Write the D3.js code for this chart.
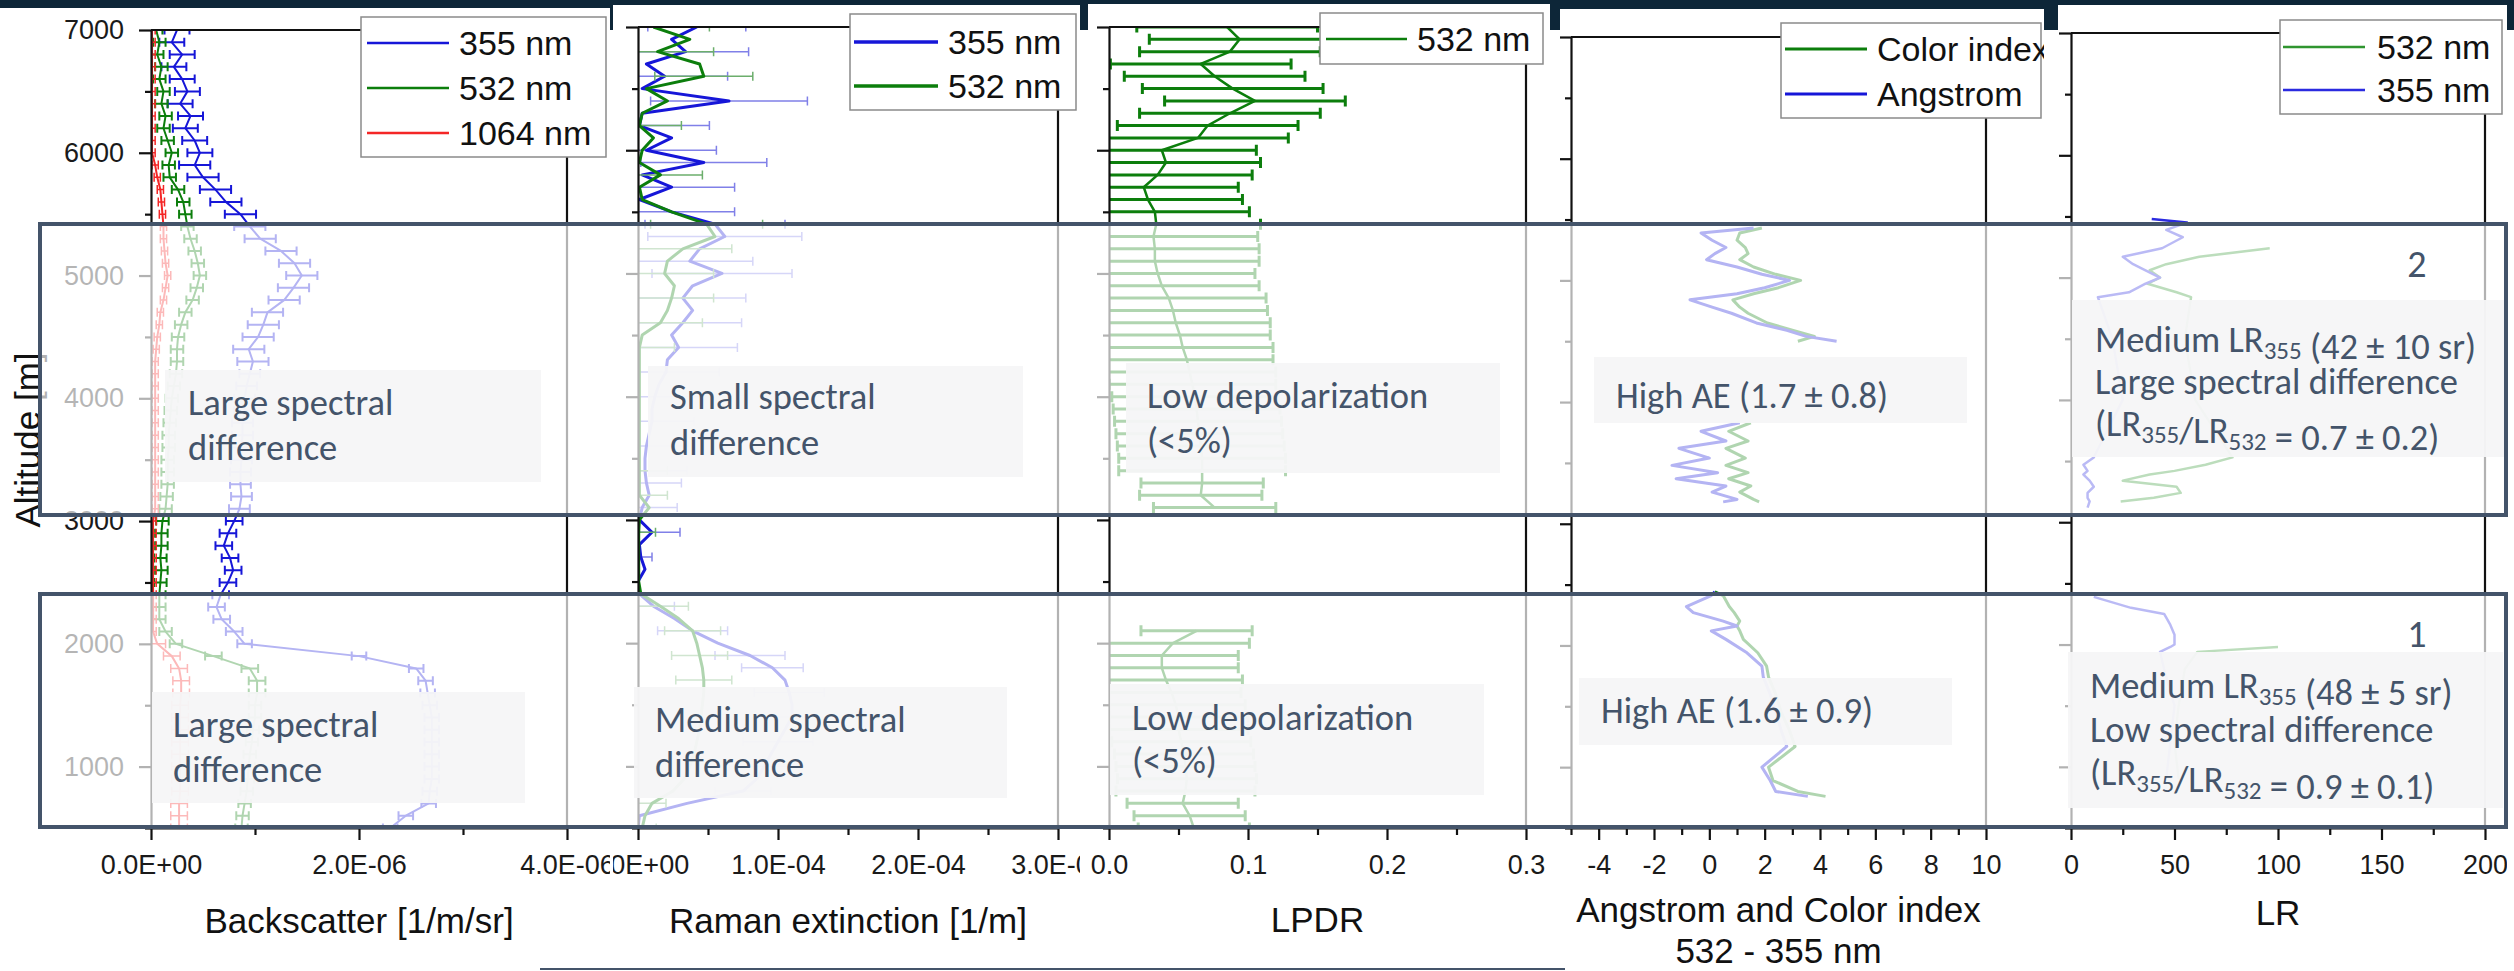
<!DOCTYPE html>
<html>
<head>
<meta charset="utf-8">
<script src="https://cdn.jsdelivr.net/npm/d3@7"></script>
<style>
  html, body { margin: 0; padding: 0; background: #0d2638; }
  svg { display: block; }
</style>
</head>
<body>
<svg id="chart" width="2514" height="971"></svg>
<script>
// altitude grid [m] used by the backscatter, extinction and LPDR profiles
var alt = [7000, 6900, 6800, 6700, 6600, 6500, 6400, 6300, 6200, 6100,
  6000, 5900, 5800, 5700, 5600, 5500, 5400, 5300, 5200, 5100,
  5000, 4900, 4800, 4700, 4600, 4500, 4400, 4300, 4200, 4100,
  4000, 3900, 3800, 3700, 3600, 3500, 3400, 3300, 3200, 3100,
  3000, 2900, 2800, 2700, 2600, 2500, 2400, 2300, 2200, 2100,
  2000, 1900, 1800, 1700, 1600, 1500, 1400, 1300, 1200, 1100,
  1000, 900, 800, 700, 600, 500]

// backscatter, units of 1e-6 1/m/sr
var bsc355 = [0.25, 0.20, 0.30, 0.22, 0.30, 0.35, 0.28, 0.38, 0.33, 0.42,
  0.47, 0.42, 0.50, 0.62, 0.72, 0.86, 0.95, 1.05, 1.25, 1.38,
  1.45, 1.37, 1.28, 1.12, 1.08, 1.03, 0.94, 0.98, 0.95, 0.92,
  0.90, 0.90, 0.88, 0.88, 0.87, 0.87, 0.86, 0.86, 0.87, 0.85,
  0.80, 0.74, 0.70, 0.76, 0.79, 0.74, 0.67, 0.63, 0.68, 0.80,
  0.90, 2.00, 2.55, 2.64, 2.66, 2.68, 2.70, 2.70, 2.70, 2.70,
  2.70, 2.70, 2.68, 2.67, 2.45, 2.30]
var bsc355Err = [0.12, 0.12, 0.12, 0.12, 0.12, 0.12, 0.12, 0.12, 0.12, 0.12,
  0.12, 0.15, 0.15, 0.15, 0.15, 0.15, 0.15, 0.15, 0.15, 0.15,
  0.15, 0.15, 0.15, 0.15, 0.15, 0.15, 0.15, 0.15, 0.10, 0.10,
  0.10, 0.10, 0.10, 0.10, 0.10, 0.10, 0.10, 0.10, 0.10, 0.10,
  0.08, 0.08, 0.08, 0.08, 0.08, 0.08, 0.08, 0.08, 0.08, 0.08,
  0.07, 0.07, 0.07, 0.07, 0.07, 0.07, 0.07, 0.07, 0.07, 0.07,
  0.07, 0.07, 0.07, 0.07, 0.07, 0.07]
var bsc532 = [0.05, 0.08, 0.06, 0.10, 0.08, 0.12, 0.10, 0.14, 0.12, 0.16,
  0.20, 0.17, 0.18, 0.26, 0.31, 0.33, 0.35, 0.38, 0.42, 0.45,
  0.47, 0.44, 0.40, 0.33, 0.29, 0.26, 0.25, 0.25, 0.24, 0.22,
  0.20, 0.19, 0.18, 0.17, 0.17, 0.16, 0.16, 0.16, 0.15, 0.14,
  0.11, 0.10, 0.10, 0.09, 0.10, 0.09, 0.08, 0.08, 0.08, 0.14,
  0.24, 0.60, 0.95, 1.02, 1.02, 1.00, 1.00, 0.98, 0.97, 0.95,
  0.94, 0.93, 0.92, 0.90, 0.88, 0.87]
var bsc532Err = [0.06, 0.06, 0.06, 0.06, 0.06, 0.06, 0.06, 0.06, 0.06, 0.06,
  0.06, 0.06, 0.06, 0.06, 0.06, 0.06, 0.06, 0.06, 0.06, 0.06,
  0.06, 0.06, 0.06, 0.06, 0.06, 0.06, 0.06, 0.06, 0.06, 0.06,
  0.06, 0.06, 0.06, 0.06, 0.06, 0.06, 0.06, 0.06, 0.06, 0.06,
  0.06, 0.06, 0.06, 0.06, 0.06, 0.06, 0.06, 0.06, 0.06, 0.06,
  0.06, 0.08, 0.08, 0.08, 0.08, 0.06, 0.06, 0.06, 0.06, 0.06,
  0.06, 0.06, 0.06, 0.06, 0.06, 0.06]
var bsc1064 = [0.01, 0.01, 0.01, 0.01, 0.01, 0.01, 0.01, 0.01, 0.01, 0.01,
  0.01, 0.04, 0.06, 0.09, 0.10, 0.11, 0.12, 0.12, 0.13, 0.14,
  0.16, 0.14, 0.12, 0.09, 0.08, 0.06, 0.05, 0.04, 0.04, 0.04,
  0.04, 0.04, 0.04, 0.04, 0.04, 0.04, 0.04, 0.04, 0.04, 0.04,
  0.02, 0.02, 0.02, 0.02, 0.02, 0.02, 0.02, 0.02, 0.02, 0.02,
  0.06, 0.20, 0.27, 0.29, 0.29, 0.28, 0.28, 0.28, 0.28, 0.28,
  0.28, 0.28, 0.28, 0.27, 0.27, 0.27]
var bsc1064Err = [0.03, 0.03, 0.03, 0.03, 0.03, 0.03, 0.03, 0.03, 0.03, 0.03,
  0.03, 0.03, 0.03, 0.03, 0.03, 0.03, 0.03, 0.03, 0.03, 0.03,
  0.03, 0.03, 0.03, 0.03, 0.03, 0.03, 0.03, 0.03, 0.03, 0.03,
  0.03, 0.03, 0.03, 0.03, 0.03, 0.03, 0.03, 0.03, 0.03, 0.03,
  0.03, 0.03, 0.03, 0.03, 0.03, 0.03, 0.03, 0.03, 0.03, 0.03,
  0.08, 0.08, 0.08, 0.08, 0.08, 0.08, 0.08, 0.08, 0.08, 0.08,
  0.08, 0.08, 0.08, 0.08, 0.08, 0.08]

// Raman extinction, units of 1e-4 1/m (null: no error bar drawn)
var ext355 = [0.42, 0.24, 0.34, 0.06, 0.19, 0.03, 0.65, 0.03, 0.01, 0.24,
  0.06, 0.47, 0.03, 0.24, 0.01, 0.24, 0.55, 0.62, 0.44, 0.37,
  0.60, 0.39, 0.32, 0.39, 0.32, 0.24, 0.29, 0.21, 0.20, 0.15,
  0.12, 0.10, 0.10, 0.08, 0.06, 0.05, 0.05, 0.06, 0.08, 0.03,
  0.01, 0.10, 0.01, 0.02, 0.05, 0.00, 0.01, 0.11, 0.26, 0.39,
  0.57, 0.80, 0.96, 1.05, 1.08, 1.10, 1.10, 1.05, 1.00, 0.95,
  0.90, 0.85, 0.75, 0.35, 0.01, 0.00]
var ext355Err = [0.35, null, 0.45, null, 0.45, null, 0.56, null, 0.50, null,
  0.50, 0.45, null, 0.45, null, 0.45, 0.50, 0.55, null, 0.45,
  0.50, null, 0.45, null, 0.42, null, 0.42, null, 0.38, null,
  0.35, null, 0.30, null, 0.30, null, 0.30, 0.25, null, 0.25,
  null, 0.20, null, 0.08, null, null, null, 0.15, null, 0.25,
  null, 0.25, 0.22, null, 0.25, null, 0.25, null, 0.25, null,
  0.25, null, 0.20, null, null, null]
var ext532 = [0.11, 0.37, 0.14, 0.44, 0.47, 0.06, 0.21, 0.03, 0.01, 0.11,
  0.03, 0.01, 0.16, 0.01, 0.03, 0.24, 0.49, 0.55, 0.32, 0.21,
  0.19, 0.26, 0.24, 0.21, 0.16, 0.03, 0.01, 0.01, 0.01, 0.01,
  0.01, 0.01, 0.01, 0.01, 0.01, 0.01, 0.01, 0.01, 0.01, 0.08,
  0.01, 0.005, 0.005, 0.005, 0.005, 0.005, 0.02, 0.16, 0.29, 0.39,
  0.42, 0.44, 0.46, 0.47, 0.47, 0.46, 0.45, 0.44, 0.42, 0.40,
  0.37, 0.33, 0.25, 0.10, 0.05, 0.03]
var ext532Err = [0.40, null, 0.40, null, 0.35, null, null, null, 0.30, null,
  null, null, 0.30, null, null, null, 0.40, null, 0.35, null,
  0.35, null, 0.30, null, 0.30, null, 0.25, null, null, null,
  null, null, null, null, null, null, 0.20, null, 0.20, null,
  null, 0.12, null, null, null, null, null, 0.20, null, 0.20,
  null, 0.20, null, 0.20, null, null, null, null, null, null,
  null, null, null, 0.10, null, 0.10]

// linear particle depolarization ratio at 532 nm
var lpdr532 = [0.085, 0.094, 0.087, 0.066, 0.076, 0.089, 0.105, 0.087, 0.071, 0.064,
  0.038, 0.041, 0.035, 0.025, 0.028, 0.033, 0.034, 0.032, 0.033, 0.033,
  0.035, 0.038, 0.043, 0.046, 0.048, 0.051, 0.053, 0.056, 0.058, 0.060,
  0.062, 0.063, 0.064, 0.065, 0.066, 0.067, 0.067, 0.067, 0.066, 0.076,
  null, null, null, null, null, null, null, null, null, 0.063,
  0.046, 0.038, 0.038, 0.041, 0.045, 0.048, 0.050, 0.050, 0.052, 0.054,
  0.055, 0.056, 0.055, 0.053, 0.058, 0.061]
var lpdr532Err = [0.065, 0.065, 0.065, 0.065, 0.065, 0.065, 0.065, 0.065, 0.065, 0.065,
  0.068, 0.068, 0.068, 0.068, 0.068, 0.068, 0.075, 0.075, 0.075, 0.075,
  0.070, 0.070, 0.070, 0.068, 0.068, 0.065, 0.065, 0.062, 0.062, 0.060,
  0.060, 0.060, 0.060, 0.060, 0.060, 0.060, 0.060, 0.044, 0.044, 0.044,
  null, null, null, null, null, null, null, null, null, 0.040,
  0.055, 0.055, 0.055, 0.055, 0.050, 0.050, 0.050, 0.050, 0.050, 0.050,
  0.050, 0.050, 0.050, 0.040, 0.040, 0.040]

// Angstrom exponent and color index (532 - 355 nm); null breaks the line
var aeAlt = [5430, 5390, 5330, 5270, 5220, 5170, 5110, 5050, 5000, 4940, 4890, 4840, 4780, 4730, 4650, 4590, 4540, 4500,
  4000,
  3830, 3760, 3680, 3620, 3540, 3480, 3420, 3370, 3310, 3260, 3200, 3180,
  2800,
  2440, 2410, 2320, 2270, 2200, 2160, 2120, 2050, 1940, 1830, 1740, 1600, 1450, 1300, 1170, 1000, 890, 800, 760]
var angstrom = [1.6, -0.3, 0.1, 0.6, 0.2, -0.1, 1.0, 1.9, 2.9, 2.0, 1.0, -0.7, 0.1, 0.8, 1.7, 2.8, 3.5, 4.6,
  null,
  1.1, -0.3, 0.6, -1.1, 0.0, -1.35, 0.3, -1.2, 0.6, 0.1, 1.0, 0.5,
  null,
  0.2, 0.07, -0.83, -0.58, 0.5, 1.0, 0.07, 0.6, 1.36, 1.9, 1.95, 2.2, 2.4, 2.6, 2.8, 1.9, 2.2, 2.4, 3.56]
var colorIndex = [1.9, 1.1, 1.0, 1.3, 1.4, 1.1, 1.6, 2.4, 3.3, 2.5, 1.6, 0.85, 1.1, 1.4, 2.1, 3.0, 3.8, 3.2,
  null,
  1.5, 0.7, 1.4, 0.6, 1.3, 0.6, 1.4, 0.7, 1.5, 1.1, 1.6, 1.8,
  null,
  0.2, 0.5, 0.72, 0.9, 1.1, 1.0, 1.1, 1.23, 1.75, 2.07, 2.14, 2.4, 2.6, 2.9, 3.1, 2.14, 2.3, 3.2, 4.2]

// lidar ratio [sr]
var lrAlt = [5480, 5450, 5390, 5330, 5240, 5170, 5110, 5060, 5000, 4950, 4880, 4840,
  4500, 4000,
  3530, 3470, 3420, 3390, 3340, 3290, 3240, 3200, 3170, 3120,
  2700,
  2390, 2300, 2250, 2160, 2080, 2000, 1980, 1940, 1800, 1500, 1200, 900]
var lr355 = [39, 56, 46, 54, 44, 25, 30, 36, 43, 36, 28, 13,
  20, 25,
  11, 6, 8, 6, 9, 11, 8, 8, 9, 8,
  null,
  11, 29, 45, 48, 50, 50, 48, 43, 45, 50, 48, 46]
var lr532 = [null, null, null, null, 96, 62, 46, 38, 43, 37, 51, 58,
  55, 60,
  78, 65, 50, 38, 25, 51, 53, 40, 24, null,
  null,
  null, null, null, null, null, null, 100, 61, 55, 52, 50, 52]

// tick values and labels
var altMajor = [1000, 2000, 3000, 4000, 5000, 6000, 7000]
var altMinor = [500, 1500, 2500, 3500, 4500, 5500, 6500]
var bscTicks = [0, 2, 4]
var bscMinor = [1, 3]
var extTicks = [0, 1, 2, 3]
var extMinor = [0.5, 1.5, 2.5]
var lpdrTicks = [0, 0.1, 0.2, 0.3]
var lpdrMinor = [0.05, 0.15, 0.25]
var aeTicks = [-4, -2, 0, 2, 4, 6, 8, 10]
var aeMinor = [-5, -3, -1, 1, 3, 5, 7, 9]
var lrTicks = [0, 50, 100, 150, 200]
var lrMinor = [25, 75, 125, 175]

var titles = [['Backscatter [1/m/sr]'], ['Raman extinction [1/m]'], ['LPDR'],
  ['Angstrom and Color index', '532 - 355 nm'], ['LR']]
var legendNames = [['355 nm', '532 nm', '1064 nm'], ['355 nm', '532 nm'], ['532 nm'],
  ['Color index', 'Angstrom'], ['532 nm', '355 nm']]

var noteText = [
  ['Large spectral', 'difference'],
  ['Large spectral', 'difference'],
  ['Small spectral', 'difference'],
  ['Medium spectral', 'difference'],
  ['Low depolarization', '(<5%)'],
  ['Low depolarization', '(<5%)'],
  ['High AE (1.7 \u00b1 0.8)'],
  ['High AE (1.6 \u00b1 0.9)'],
  ['Medium LR_355 (42 \u00b1 10 sr)', 'Large spectral difference', '(LR_355/LR_532 = 0.7 \u00b1 0.2)'],
  ['Medium LR_355 (48 \u00b1 5 sr)', 'Low spectral difference', '(LR_355/LR_532 = 0.9 \u00b1 0.1)']
]
var layerNames = ['2', '1']

// ---------------------------------------------------------------
var BLUE = '#1616d8'
var GREEN = '#0c7e0c'
var RED = '#f42626'
var SLATE = '#44546a'
var AXIS_FONT = '"Liberation Sans", Arial, sans-serif'
var NOTE_FONT = 'Carlito, Lato, sans-serif'
var BOTTOM = 828

function sci (v) {
  var parts = v.toExponential(1).split('e')
  var e = parseInt(parts[1], 10)
  return parts[0] + 'E' + (e < 0 ? '-' : '+') + String(Math.abs(e)).padStart(2, '0')
}

var panels = [
  {
    x0: 151, x1: 567, top: 30, clip: [0, 8, 610, 963], dom: [0, 4],
    major: bscTicks, minor: bscMinor, fmt: function (d) { return sci(d * 1e-6) },
    titleY: [933], yLabels: true,
    series: [
      { v: bsc355, e: bsc355Err, c: BLUE, w: 2, ew: 2, cap: 9 },
      { v: bsc532, e: bsc532Err, c: GREEN, w: 2, ew: 2, cap: 9 },
      { v: bsc1064, e: bsc1064Err, c: RED, w: 2, ew: 1.5, cap: 9 }
    ],
    legend: { x: 361, y: 17, w: 245, h: 140, l0: 367, l1: 449, tx: 459, ys: [43, 88, 133], colors: [BLUE, GREEN, RED], lw: 2.5 }
  },
  {
    x0: 638, x1: 1058, top: 27, clip: [613, 5, 1080, 966], dom: [0, 3],
    major: extTicks, minor: extMinor, fmt: function (d) { return sci(d * 1e-4) },
    titleY: [933],
    series: [
      { v: ext355, e: ext355Err, c: BLUE, w: 3, ew: 1.5, cap: 9, barColor: '#8080e8' },
      { v: ext532, e: ext532Err, c: GREEN, w: 3, ew: 1.5, cap: 9, barColor: '#6cae6c' }
    ],
    legend: { x: 850, y: 14, w: 226, h: 96, l0: 854, l1: 938, tx: 948, ys: [42, 86], colors: [BLUE, GREEN], lw: 3.5 }
  },
  {
    x0: 1109, x1: 1526, top: 27, clip: [1088, 4, 1550, 967], dom: [0, 0.3],
    major: lpdrTicks, minor: lpdrMinor, fmt: d3.format('.1f'),
    titleY: [932],
    series: [
      { v: lpdr532, e: lpdr532Err, c: GREEN, w: 2.5, ew: 3, cap: 11 }
    ],
    legend: { x: 1320, y: 13, w: 223, h: 51, l0: 1326, l1: 1407, tx: 1417, ys: [39], colors: [GREEN], lw: 2.5 }
  },
  {
    x0: 1571, x1: 1986, top: 37, clip: [1560, 9, 2044, 962], dom: [-5, 10],
    major: aeTicks, minor: aeMinor, fmt: function (d) { return String(d) },
    titleY: [922, 963], alts: aeAlt,
    series: [
      { v: colorIndex, c: GREEN, w: 3 },
      { v: angstrom, c: BLUE, w: 3 }
    ],
    legend: { x: 1781, y: 23, w: 260, h: 95, l0: 1785, l1: 1867, tx: 1877, ys: [49, 94], colors: [GREEN, BLUE], lw: 3 }
  },
  {
    x0: 2071, x1: 2485, top: 33, clip: [2058, 5, 2507, 966], dom: [0, 200],
    major: lrTicks, minor: lrMinor, fmt: function (d) { return String(d) },
    titleY: [925], alts: lrAlt,
    series: [
      { v: lr532, c: '#2f952f', w: 2.5 },
      { v: lr355, c: '#2b2be0', w: 2.5 }
    ],
    legend: { x: 2280, y: 20, w: 222, h: 94, l0: 2283, l1: 2365, tx: 2377, ys: [47, 90], colors: ['#2f952f', '#2b2be0'], lw: 2.5 }
  }
]

var noteBoxes = [
  { x: 165, y: 370, w: 376, h: 112, tx: 188, ty: [415, 460] },
  { x: 152, y: 692, w: 373, h: 111, tx: 173, ty: [737, 782] },
  { x: 648, y: 366, w: 375, h: 111, tx: 670, ty: [409, 455] },
  { x: 634, y: 687, w: 373, h: 111, tx: 655, ty: [732, 777] },
  { x: 1126, y: 363, w: 374, h: 110, tx: 1147, ty: [408, 453] },
  { x: 1110, y: 684, w: 374, h: 111, tx: 1132, ty: [730, 773] },
  { x: 1594, y: 357, w: 373, h: 66, tx: 1616, ty: [408] },
  { x: 1579, y: 678, w: 373, h: 67, tx: 1601, ty: [723] },
  { x: 2072, y: 300, w: 435, h: 157, tx: 2095, ty: [352, 394, 436] },
  { x: 2068, y: 652, w: 435, h: 156, tx: 2090, ty: [698, 742, 785] }
]
var layerBoxes = [
  { x: 40, y: 224, w: 2466, h: 291, nx: 2417, ny: 277 },
  { x: 40, y: 594, w: 2466, h: 233, nx: 2417, ny: 647 }
]

var svg = d3.select('#chart')
var defs = svg.append('defs')

svg.append('rect').attr('width', 2514).attr('height', 971).attr('fill', '#0d2638')
svg.append('rect').attr('y', 30).attr('width', 2514).attr('height', 941).attr('fill', '#fff')

panels.forEach(function (p, i) {
  var x = d3.scaleLinear().domain(p.dom).range([p.x0, p.x1])
  var y = d3.scaleLinear().domain([500, 7000]).range([BOTTOM, p.top])
  var alts = p.alts || alt

  defs.append('clipPath').attr('id', 'img' + i).append('rect')
    .attr('x', p.clip[0]).attr('y', p.clip[1])
    .attr('width', p.clip[2] - p.clip[0]).attr('height', 971 - p.clip[1])
  defs.append('clipPath').attr('id', 'plot' + i).append('rect')
    .attr('x', p.x0).attr('y', p.top)
    .attr('width', p.x1 - p.x0).attr('height', BOTTOM - p.top)

  var g = svg.append('g').attr('clip-path', 'url(#img' + i + ')')
  g.append('rect')
    .attr('x', p.clip[0]).attr('y', p.clip[1])
    .attr('width', p.clip[2] - p.clip[0]).attr('height', 971 - p.clip[1])
    .attr('fill', '#fff')

  var plot = g.append('g').attr('clip-path', 'url(#plot' + i + ')')

  p.series.forEach(function (s) {
    if (s.e) {
      var bars = plot.append('g')
        .attr('stroke', s.barColor || s.c)
        .attr('stroke-width', s.ew)
        .attr('fill', 'none')
      alts.forEach(function (a, k) {
        var v = s.v[k]
        var err = s.e[k]
        if (v == null || err == null) return
        var xl = x(v - err)
        var xr = x(v + err)
        var yy = y(a)
        bars.append('path')
          .attr('d', 'M' + xl + ',' + yy + 'H' + xr +
            'M' + xl + ',' + (yy - s.cap / 2) + 'V' + (yy + s.cap / 2) +
            'M' + xr + ',' + (yy - s.cap / 2) + 'V' + (yy + s.cap / 2))
      })
    }
    var line = d3.line()
      .defined(function (d, k) { return s.v[k] != null })
      .x(function (d, k) { return x(s.v[k]) })
      .y(function (d) { return y(d) })
    plot.append('path')
      .datum(alts)
      .attr('d', line)
      .attr('fill', 'none')
      .attr('stroke', s.c)
      .attr('stroke-width', s.w)
      .attr('stroke-linejoin', 'round')
  })

  // axes
  var styleAxis = function (sel) {
    sel.attr('font-family', AXIS_FONT).attr('font-size', 27)
    sel.select('.domain').attr('stroke', '#111').attr('stroke-width', 2.2)
    sel.selectAll('.tick line').attr('stroke', '#111').attr('stroke-width', 2.2)
    sel.selectAll('.tick text').attr('fill', '#1a1a1a')
  }
  g.append('g').attr('transform', 'translate(0,' + BOTTOM + ')')
    .call(d3.axisBottom(x).tickValues(p.major).tickFormat(p.fmt).tickSize(12).tickPadding(15).tickSizeOuter(0))
    .call(styleAxis)
  g.append('g').attr('transform', 'translate(0,' + BOTTOM + ')')
    .call(d3.axisBottom(x).tickValues(p.minor).tickFormat('').tickSize(7))
    .call(styleAxis)
    .call(function (s) { s.select('.domain').remove() })
  g.append('g').attr('transform', 'translate(' + p.x0 + ',0)')
    .call(d3.axisLeft(y).tickValues(altMajor).tickFormat(p.yLabels ? d3.format('d') : '').tickSize(12).tickPadding(15).tickSizeOuter(0))
    .call(styleAxis)
  g.append('g').attr('transform', 'translate(' + p.x0 + ',0)')
    .call(d3.axisLeft(y).tickValues(altMinor).tickFormat('').tickSize(6))
    .call(styleAxis)
    .call(function (s) { s.select('.domain').remove() })

  // frame
  g.append('path')
    .attr('d', 'M' + p.x0 + ',' + y(7000) + 'H' + p.x1 + 'V' + BOTTOM)
    .attr('fill', 'none').attr('stroke', '#111').attr('stroke-width', 2.2)

  // axis title
  titles[i].forEach(function (t, k) {
    g.append('text')
      .attr('x', (p.x0 + p.x1) / 2).attr('y', p.titleY[k])
      .attr('text-anchor', 'middle')
      .attr('font-family', AXIS_FONT).attr('font-size', 35).attr('fill', '#111')
      .text(t)
  })
  if (p.yLabels) {
    g.append('text')
      .attr('transform', 'translate(27,440) rotate(-90)')
      .attr('text-anchor', 'middle').attr('dominant-baseline', 'central')
      .attr('font-family', AXIS_FONT).attr('font-size', 35).attr('fill', '#111')
      .text('Altitude [m]')
  }

  // legend
  var L = p.legend
  g.append('rect')
    .attr('x', L.x).attr('y', L.y).attr('width', L.w).attr('height', L.h)
    .attr('fill', '#fff').attr('stroke', '#8a8a8a').attr('stroke-width', 1.5)
  legendNames[i].forEach(function (name, k) {
    g.append('line')
      .attr('x1', L.l0).attr('x2', L.l1).attr('y1', L.ys[k]).attr('y2', L.ys[k])
      .attr('stroke', L.colors[k]).attr('stroke-width', L.lw)
    g.append('text')
      .attr('x', L.tx).attr('y', L.ys[k]).attr('dy', '0.36em')
      .attr('font-family', AXIS_FONT).attr('font-size', 34).attr('fill', '#111')
      .text(name)
  })
})

// faded layers with their outlines
layerBoxes.forEach(function (b) {
  svg.append('rect')
    .attr('x', b.x).attr('y', b.y).attr('width', b.w).attr('height', b.h)
    .attr('fill', '#fff').attr('fill-opacity', 0.68)
})

noteBoxes.forEach(function (b, k) {
  svg.append('rect')
    .attr('x', b.x).attr('y', b.y).attr('width', b.w).attr('height', b.h)
    .attr('fill', '#f5f5f6').attr('fill-opacity', 0.94)
  noteText[k].forEach(function (line, j) {
    var t = svg.append('text')
      .attr('x', b.tx).attr('y', b.ty[j])
      .attr('font-family', NOTE_FONT).attr('font-size', 36.5).attr('fill', SLATE)
    var parts = line.split(/_(\d+)/)
    parts.forEach(function (part, n) {
      if (!part) return
      if (n % 2 === 1) {
        t.append('tspan').attr('dy', 7).attr('font-size', 25).text(part)
        t.append('tspan').attr('dy', -7).text('')
      } else {
        t.append('tspan').text(part)
      }
    })
  })
})

layerBoxes.forEach(function (b, k) {
  svg.append('rect')
    .attr('x', b.x).attr('y', b.y).attr('width', b.w).attr('height', b.h)
    .attr('fill', 'none').attr('stroke', SLATE).attr('stroke-width', 4)
  svg.append('text')
    .attr('x', b.nx).attr('y', b.ny)
    .attr('text-anchor', 'middle')
    .attr('font-family', NOTE_FONT).attr('font-size', 38).attr('fill', SLATE)
    .text(layerNames[k])
})

svg.append('line')
  .attr('x1', 540).attr('x2', 1565).attr('y1', 969).attr('y2', 969)
  .attr('stroke', SLATE).attr('stroke-width', 2)
</script>
</body>
</html>
